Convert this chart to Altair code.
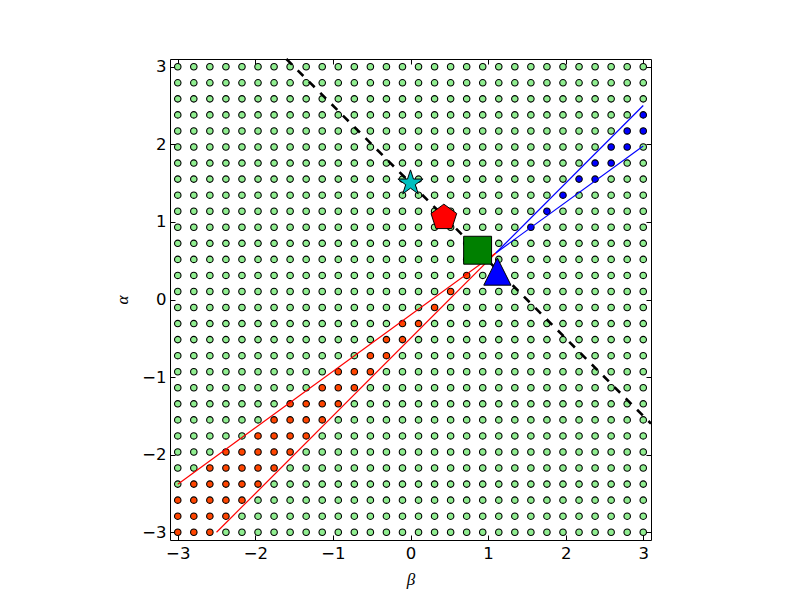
import altair as alt
import pandas as pd

# grid values (30 x 30 lattice on [-3, 3])
GRID = [-3.0, -2.7931, -2.5862, -2.3793, -2.1724, -1.9655, -1.7586, -1.5517,
        -1.3448, -1.1379, -0.9310, -0.7241, -0.5172, -0.3103, -0.1034,
        0.1034, 0.3103, 0.5172, 0.7241, 0.9310, 1.1379, 1.3448, 1.5517,
        1.7586, 1.9655, 2.1724, 2.3793, 2.5862, 2.7931, 3.0]

# coloured points, row index (alpha) -> (first, last) column index (beta)
RED_ROWS = {0: (0, 2), 1: (0, 3), 2: (0, 4), 3: (1, 5), 4: (2, 6), 5: (3, 7),
            6: (5, 8), 7: (6, 9), 8: (7, 10), 9: (9, 11), 10: (10, 12),
            11: (12, 13), 12: (13, 14), 13: (14, 15), 14: (16, 16),
            15: (17, 17), 16: (18, 18)}
BLUE_ROWS = {19: (22, 22), 20: (23, 23), 21: (24, 24), 22: (25, 26),
             23: (26, 27), 24: (27, 28), 25: (28, 29), 26: (29, 29)}

# line segments (beta, alpha)
RED_SEG_ID = [1, 1, 2, 2]
RED_SEG_BETA = [1.1, -3.0, 1.1, -2.5]
RED_SEG_ALPHA = [0.6, -2.38, 0.6, -3.0]
BLUE_SEG_ID = [1, 1, 2, 2]
BLUE_SEG_BETA = [1.1, 3.0, 1.1, 3.0]
BLUE_SEG_ALPHA = [0.6, 1.98, 0.6, 2.5]
DASH_BETA = [-1.6, 3.1]
DASH_ALPHA = [3.1, -1.6]

# highlighted markers
MARKER_NAMES = ["star", "pentagon", "square", "triangle"]
MARKER_BETA = [0.0, 0.43, 0.865, 1.12]
MARKER_ALPHA = [1.5, 1.055, 0.635, 0.36]

TICKS = [-3, -2, -1, 0, 1, 2, 3]

rows = []
for j, a in enumerate(GRID):
    for k, b in enumerate(GRID):
        c = "grid"
        if j in RED_ROWS and RED_ROWS[j][0] <= k <= RED_ROWS[j][1]:
            c = "red"
        if j in BLUE_ROWS and BLUE_ROWS[j][0] <= k <= BLUE_ROWS[j][1]:
            c = "blue"
        rows.append({"beta": b, "alpha": a, "kind": c})
pts = pd.DataFrame(rows)

red_df = pd.DataFrame({"seg": RED_SEG_ID, "beta": RED_SEG_BETA, "alpha": RED_SEG_ALPHA})
blue_df = pd.DataFrame({"seg": BLUE_SEG_ID, "beta": BLUE_SEG_BETA, "alpha": BLUE_SEG_ALPHA})
dash_df = pd.DataFrame({"beta": DASH_BETA, "alpha": DASH_ALPHA})
mk_df = pd.DataFrame({"name": MARKER_NAMES, "beta": MARKER_BETA, "alpha": MARKER_ALPHA})

xs = alt.Scale(domain=[-3.1, 3.1], nice=False, zero=False)
ys = alt.Scale(domain=[-3.1, 3.1], nice=False, zero=False)

common = dict(values=TICKS, format="d", offset=-5, tickSize=5, tickColor="black",
              tickWidth=1, domain=False, grid=False)

x_bottom = alt.Axis(orient="bottom", labelFont="DejaVu Sans", labelFontSize=16.5,
                    labelColor="black", labelPadding=5, title="β",
                    titleFont="Liberation Serif", titleFontStyle="italic",
                    titleFontWeight="normal", titleFontSize=17, titleColor="black",
                    titlePadding=10, **common)
y_left = alt.Axis(orient="left", labelFont="DejaVu Sans", labelFontSize=16.5,
                  labelColor="black", labelPadding=4, title="α",
                  titleFont="Liberation Serif", titleFontStyle="italic",
                  titleFontWeight="normal", titleFontSize=17, titleColor="black",
                  titlePadding=10, **common)
x_top = alt.Axis(orient="top", labels=False, title=None, **common)
y_right = alt.Axis(orient="right", labels=False, title=None, **common)

points = alt.Chart(pts).mark_circle(size=42, stroke="black", strokeWidth=1.1,
                                    opacity=1).encode(
    x=alt.X("beta:Q", scale=xs, axis=x_bottom),
    y=alt.Y("alpha:Q", scale=ys, axis=y_left),
    color=alt.Color("kind:N", scale=alt.Scale(domain=["grid", "red", "blue"],
                                              range=["#90EE90", "#FF4500", "#0000FF"]),
                    legend=None),
)

red_lines = alt.Chart(red_df).mark_line(color="#FF0000", strokeWidth=1.2).encode(
    x=alt.X("beta:Q", scale=xs, axis=None),
    y=alt.Y("alpha:Q", scale=ys, axis=None),
    detail="seg:N",
)
blue_lines = alt.Chart(blue_df).mark_line(color="#0000FF", strokeWidth=1.2).encode(
    x=alt.X("beta:Q", scale=xs, axis=None),
    y=alt.Y("alpha:Q", scale=ys, axis=None),
    detail="seg:N",
)
dash = alt.Chart(dash_df).mark_line(color="black", strokeWidth=2.6,
                                    strokeDash=[8, 8]).encode(
    x=alt.X("beta:Q", scale=xs, axis=x_top),
    y=alt.Y("alpha:Q", scale=ys, axis=y_right),
)

STAR = ("M0,-1L0.2245,-0.309L0.9511,-0.309L0.3633,0.118L0.5878,0.809L0,0.382"
        "L-0.5878,0.809L-0.3633,0.118L-0.9511,-0.309L-0.2245,-0.309Z")
PENT = "M0,-1L0.9511,-0.309L0.5878,0.809L-0.5878,0.809L-0.9511,-0.309Z"
TRI = "M0,-1L1,1L-1,1Z"
styles = {
    "star": (STAR, 700, "#00BFBF"),
    "pentagon": (PENT, 730, "#FF0000"),
    "square": ("square", 780, "#008000"),
    "triangle": (TRI, 740, "#0000FF"),
}

marker_layers = []
for name in MARKER_NAMES:
    shp, sz, col = styles[name]
    marker_layers.append(
        alt.Chart(mk_df).transform_filter(alt.datum.name == name).mark_point(
            shape=shp, size=sz, filled=True, fill=col, stroke="black",
            strokeWidth=1, opacity=1, fillOpacity=1, strokeOpacity=1).encode(
            x=alt.X("beta:Q", scale=xs, axis=None),
            y=alt.Y("alpha:Q", scale=ys, axis=None),
        )
    )

chart = alt.layer(points, red_lines, blue_lines, dash, *marker_layers).resolve_axis(
    x="independent", y="independent"
).properties(
    width=481, height=481,
    autosize=alt.AutoSizeParams(type="none"),
    padding={"left": 162, "top": 51, "right": 141, "bottom": 52},
    background="white",
).configure_view(stroke="black", strokeWidth=1)

chart.save("out.html", embed_options={"renderer": "svg", "actions": False})
